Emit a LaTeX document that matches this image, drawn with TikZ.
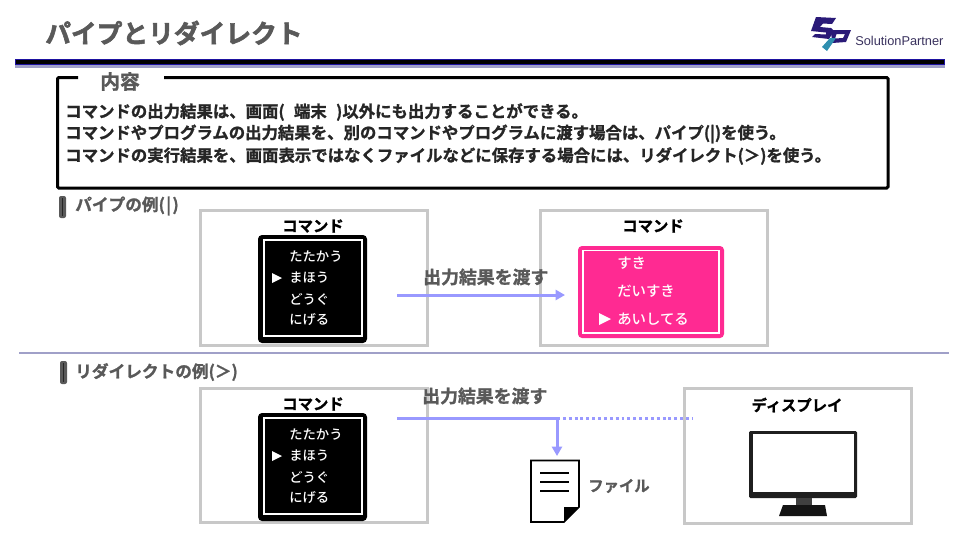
\documentclass[tikz,border=0pt]{standalone}
\usepackage{fontspec}
\setmainfont{Noto Sans CJK JP}[BoldFont={Noto Sans CJK JP Bold},BoldFeatures={FakeBold=1.2}]
\newfontfamily\jpmed{Noto Sans CJK JP Medium}
\newfontfamily\jpheavy{Noto Sans CJK JP Bold}[FakeBold=2.2]
\newfontfamily\latinsans{Liberation Sans}
\definecolor{tgray}{HTML}{595959}
\definecolor{framegray}{HTML}{C8C8C8}
\definecolor{flow}{HTML}{9999FF}
\definecolor{rulelav}{HTML}{A0A0C8}
\definecolor{hotpink}{HTML}{FF2A92}
\definecolor{indigo}{HTML}{2A1A78}
\definecolor{teal2}{HTML}{2F8FB0}
\def\fs#1{\fontsize{#1}{#1}\selectfont}
\usetikzlibrary{arrows.meta}
\tikzset{
 x=0.75pt,y=-0.75pt,
 frame/.style={draw=framegray,line width=2.25pt,fill=white},
 lbl/.style={inner sep=0pt,anchor=west,text=tgray,font=\bfseries\fs{13.4}},
 head/.style={inner sep=0pt,anchor=center,text=black,font=\bfseries\fs{11.5}},
 bodytxt/.style={inner sep=0pt,anchor=west,text=black!85,font=\bfseries\fs{12.3}},
 menu/.style={inner sep=0pt,anchor=west,text=white,font=\jpmed\fs{10}},
 pmenu/.style={inner sep=0pt,anchor=west,text=white,font=\jpmed\fs{10.8}},
 flowline/.style={draw=flow,line width=2.25pt},
 flowtip/.style={flowline,-{Triangle[length=7pt,width=7.5pt]}},
 secbar/.style={draw=none,fill=tgray,rounded corners=1.5pt},
}
\newcommand{\menubox}[1]{%
 \fill[black,rounded corners=3pt] (258,#1) rectangle (367,#1+108);
 \draw[white,line width=1pt] (264,#1+5) rectangle (362,#1+101);
 \node[menu] at (289,#1+22) {たたかう};
 \node[menu] at (289,#1+43) {まほう};
 \node[menu] at (289,#1+64) {どうぐ};
 \node[menu] at (289,#1+85) {にげる};
 \fill[white] (272,#1+38) -- (282,#1+43) -- (272,#1+48) -- cycle;
}
\begin{document}
\begin{tikzpicture}
\useasboundingbox (0,0) rectangle (960,540);
\fill[white] (0,0) rectangle (960,540);
% header
\node[lbl,font=\jpheavy\fs{19.3}] (title) at (45,33) {パイプとリダイレクト};
\fill[rulelav] (15,65) rectangle (945,67.5);
\draw[draw=indigo!70!blue,line width=.6pt,fill=black] (15.5,59.5) rectangle (944.5,64);
% logo
\fill[indigo] (816,17) -- (836,18) -- (832,24) -- (823,23.5) -- (820,27) -- (831,28) -- (834,31) -- (829,39) -- (812,37) -- (815,34) -- (826,34.5) -- (826,32.5) -- (811,31) -- cycle;
\fill[indigo,even odd rule] (831,30) -- (851,30) -- (846,42) -- (832,43) -- cycle (836.5,34) -- (845,34) -- (843,38) -- (835,38.5) -- cycle;
\fill[teal2] (830,38) -- (836,38) -- (827,51) -- (822,47) -- cycle;
\node[inner sep=0pt,anchor=west,text=indigo!55!black!85,font=\latinsans\fs{9.6}] (brand) at (855,40.5) {SolutionPartner};
% content box
\draw[black,line width=2.25pt,rounded corners=1pt] (78,77.5) -- (57.5,77.5) -- (57.5,188) -- (888,188) -- (888,77.5) -- (164,77.5);
\node[lbl,font=\bfseries\fs{14.8}] (naiyo) at (100,81.5) {内容};
\node[bodytxt] (b1) at (65,112) {コマンドの出力結果は、画面(\hspace{7pt}端末\hspace{7pt})以外にも出力することができる。};
\node[bodytxt] (b2) at (65,134) {コマンドやプログラムの出力結果を、別のコマンドやプログラムに渡す場合は、パイプ(|)を使う。};
\node[bodytxt] (b3) at (65,156) {コマンドの実行結果を、画面表示ではなくファイルなどに保存する場合には、リダイレクト(＞)を使う。};
% section 1
\fill[secbar] (59,196) rectangle (66,218);
\draw[black!85,line width=1.2pt] (62.5,198) -- (62.5,216);
\node[lbl,font=\bfseries\fs{12.5}] (s1) at (75,206) {パイプの例(\hspace{1pt}|\hspace{1pt})};
\draw[frame] (200.5,210.5) rectangle (427.5,345.5);
\draw[frame] (540.5,210.5) rectangle (767.5,345.5);
\node[head] (c1) at (313,226) {コマンド};
\node[head] (c2) at (653,226) {コマンド};
\menubox{235}
\fill[hotpink,rounded corners=3pt] (578,246) rectangle (724,338);
\draw[white,line width=1pt] (583,250.5) rectangle (719,333);
\node[pmenu] at (617,263) {すき};
\node[pmenu] at (617,291) {だいすき};
\node[pmenu] at (617,319) {あいしてる};
\fill[white] (599,313) -- (611,319) -- (599,325) -- cycle;
\coordinate (p1) at (397,295);
\coordinate (p2) at (565,295);
\draw[flowtip] (p1) -- (p2);
\node[lbl] (t1) at (423,277) {出力結果を渡す};
% divider
\draw[rulelav,line width=1.1pt] (19,353) -- (949,353);
% section 2
\fill[secbar] (60,361) rectangle (67,384);
\draw[black!85,line width=1.2pt] (63.5,363) -- (63.5,382);
\node[lbl,font=\bfseries\fs{12.5}] (s2) at (75,372) {リダイレクトの例(＞)};
\draw[frame] (200.5,388.5) rectangle (427.5,522);
\draw[frame] (684.5,388.5) rectangle (911.5,523);
\node[head] (c3) at (313,404) {コマンド};
\node[head] (c4) at (797,405) {ディスプレイ};
\menubox{413}
% file
\node[lbl,font=\bfseries\fs{11.5}] (flabel) at (588,486) {ファイル};
\draw[black,line width=1.3pt,fill=white] (531,460.5) -- (579,460.5) -- (579,507) -- (564,522) -- (531,522) -- cycle;
\fill[black] (564,507) -- (579,507) -- (564,522) -- cycle;
\foreach \yy in {473,482,491} \draw[black,line width=1.3pt] (540,\yy) -- (569,\yy);
% flows
\coordinate (r1) at (397,418);
\coordinate (r2) at (557,418);
\coordinate (r3) at (692,418);
\coordinate (r4) at (557,456);
\draw[flowline] (r1) -- (r2);
\draw[flowline,dash pattern=on 2.2pt off 2.2pt] (r2) -- (r3);
\draw[flowtip] (r2) -- (r4);
\node[lbl] (t2) at (422,396) {出力結果を渡す};
% monitor
\fill[black!88,rounded corners=1pt] (749,431) rectangle (857,498);
\fill[white] (753,434) rectangle (854,492);
\fill[black!75] (796,498) rectangle (812,508);
\fill[black!92] (783,505) -- (825,505) -- (827,516) -- (779,516) -- cycle;
\end{tikzpicture}
\end{document}
